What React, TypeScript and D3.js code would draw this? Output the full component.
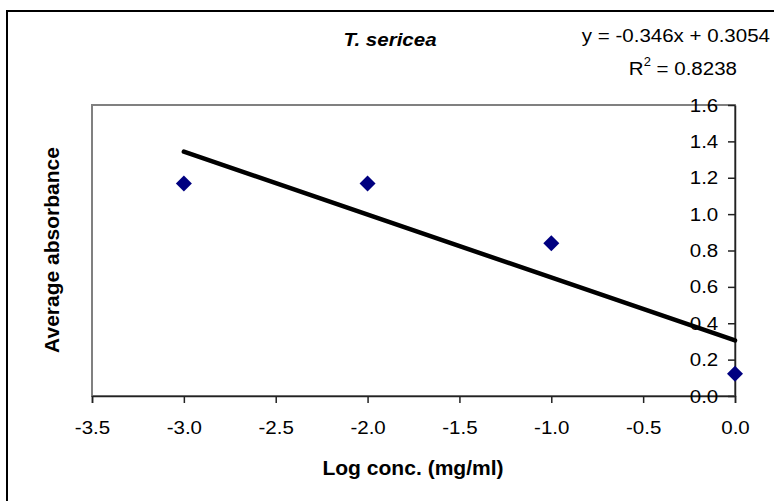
import React, { useRef, useEffect } from 'react';
import * as d3 from 'd3';

// log concentration (mg/ml) and mean absorbance
const logConc = [-3, -2, -1, 0];
const absorbance = [1.168, 1.168, 0.84, 0.122];
const xTicks = [-3.5, -3.0, -2.5, -2.0, -1.5, -1.0, -0.5, 0.0];
const yTicks = [0, 0.2, 0.4, 0.6, 0.8, 1.0, 1.2, 1.4, 1.6];
const slope = -0.346;
const intercept = 0.3054;
const rSquared = 0.8238;

const W = 774;
const H = 501;
const SX = 1.08; // text in the picture is a little wide

const fmt = (d: number) => d.toFixed(1);

const App = () => {
  const svgRef = useRef<SVGSVGElement>(null);

  useEffect(() => {
    const svg = d3.select(svgRef.current);
    svg.selectAll('*').remove();
    const font = 'Liberation Sans, Arial, sans-serif';

    const x = d3.scaleLinear().domain([-3.5, 0]).range([92, 735]);
    const y = d3.scaleLinear().domain([0, 1.6]).range([396, 105]);

    svg.append('rect')
      .attr('width', W).attr('height', H).attr('fill', '#fff');

    // chart border, only top and left fall inside the picture
    svg.append('rect')
      .attr('x', 7).attr('y', 11)
      .attr('width', 900).attr('height', 700)
      .attr('fill', 'none').attr('stroke', '#000').attr('stroke-width', 2);

    // plot area
    svg.append('rect')
      .attr('x', x(-3.5)).attr('y', y(1.6))
      .attr('width', x(0) - x(-3.5)).attr('height', y(0) - y(1.6))
      .attr('fill', 'none').attr('stroke', '#808080').attr('stroke-width', 2);

    const xAxis = svg.append('g')
      .attr('transform', `translate(0,${y(0)})`)
      .call(d3.axisBottom(x).tickValues(xTicks).tickSize(7).tickPadding(18)
        .tickFormat(d => fmt(d as number)));
    xAxis.select('.domain').attr('stroke', '#222').attr('stroke-width', 1.5);
    xAxis.selectAll('.tick line').attr('stroke', '#222').attr('stroke-width', 1.5);
    xAxis.selectAll('.tick text')
      .attr('font-family', font).attr('font-size', 19).attr('fill', '#000')
      .attr('transform', `scale(${SX},1)`);

    const yAxis = svg.append('g')
      .attr('transform', `translate(${x(0)},0)`)
      .call(d3.axisLeft(y).tickValues(yTicks).tickSizeInner(7).tickSizeOuter(0)
        .tickPadding(8.5).tickFormat(d => fmt(d as number)));
    yAxis.select('.domain').attr('stroke', '#222').attr('stroke-width', 1.5);
    yAxis.selectAll('.tick line').attr('stroke', '#222').attr('stroke-width', 1.5);
    yAxis.selectAll('.tick text')
      .attr('font-family', font).attr('font-size', 19).attr('fill', '#000')
      .attr('transform', `scale(${SX},1)`);

    // linear trendline
    const line = d3.line<number>().x(d => x(d)).y(d => y(slope * d + intercept));
    svg.append('path')
      .datum([logConc[0], logConc[logConc.length - 1]])
      .attr('d', line)
      .attr('fill', 'none').attr('stroke', '#000')
      .attr('stroke-width', 4.5).attr('stroke-linecap', 'round');

    // data points
    const sym = d3.symbol(d3.symbolSquare, 128);
    svg.append('g').selectAll('path')
      .data(logConc)
      .enter()
      .append('path')
      .attr('d', sym)
      .attr('transform', (d, i) => `translate(${x(d)},${y(absorbance[i])}) rotate(45)`)
      .attr('fill', '#000080');

    const addText = (tx: number, ty: number, anchor: string, size: number, weight: string, style: string) => {
      const g = svg.append('g').attr('transform', `translate(${tx},${ty}) scale(${SX},1)`);
      return g.append('text')
        .attr('text-anchor', anchor)
        .attr('font-family', font).attr('font-size', size)
        .attr('font-weight', weight).attr('font-style', style)
        .attr('fill', '#000');
    };

    addText(390, 46, 'middle', 19, 'bold', 'italic').text('T. sericea');
    addText(770, 42, 'end', 19, 'normal', 'normal').text(`y = ${slope}x + ${intercept}`);
    const r2 = addText(737, 75, 'end', 19, 'normal', 'normal');
    r2.append('tspan').text('R');
    r2.append('tspan').attr('dy', -9).attr('font-size', 12).text('2');
    r2.append('tspan').attr('dy', 9).text(` = ${rSquared}`);

    addText(413, 475, 'middle', 19.5, 'bold', 'normal').text('Log conc. (mg/ml)');

    svg.append('text')
      .attr('transform', `translate(59,250) rotate(-90)`)
      .attr('text-anchor', 'middle')
      .attr('font-family', font).attr('font-size', 21).attr('font-weight', 'bold')
      .attr('fill', '#000')
      .text('Average absorbance');
  }, []);

  return (
    <svg ref={svgRef} width={W} height={H}
      style={{ position: 'absolute', left: 0, top: 0, display: 'block' }} />
  );
};

export default App;
